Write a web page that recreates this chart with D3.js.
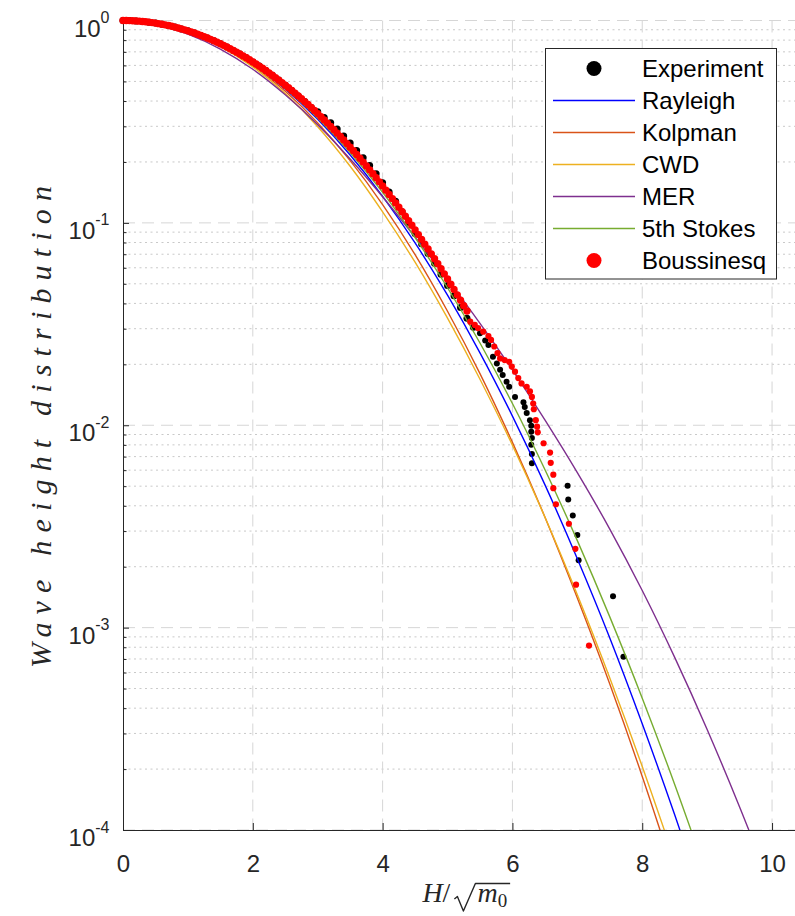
<!DOCTYPE html>
<html>
<head>
<meta charset="utf-8">
<script src="https://cdn.jsdelivr.net/npm/d3@7"></script>
<style>
  body { margin: 0; background: #fff; }
  svg { display: block; }
</style>
</head>
<body>
<svg id="chart" width="795" height="916"></svg>
<script>
// ---- model curves: exceedance probability at H/sqrt(m0) = 0, 0.5, 1, ... ----
const modelH = [0, 0.5, 1, 1.5, 2, 2.5, 3, 3.5, 4, 4.5, 5, 5.5, 6, 6.5, 7, 7.5, 8, 8.5, 9, 9.5, 10];
const rayleighP = [1, 0.9692, 0.8825, 0.7548, 0.6065, 0.4578, 0.3247, 0.2163, 0.1353, 0.0796, 0.0439,
  0.0228, 0.0111, 0.00509, 0.00219, 0.000889, 0.000335, 0.000119, 0.0000402];
const kolpmanP = [1, 0.9685, 0.8798, 0.7498, 0.5981, 0.4466, 0.3116, 0.2029, 0.1232, 0.0697, 0.0366,
  0.0180, 0.00823, 0.00352, 0.00140, 0.000526, 0.000184, 0.0000599];
const cwdP = [1, 0.9676, 0.8767, 0.7438, 0.590, 0.4356, 0.2988, 0.1905, 0.1134, 0.0639, 0.0338,
  0.01688, 0.00797, 0.00352, 0.001454, 0.000564, 0.000206, 0.0000707];
const merP = [1, 0.9560, 0.8564, 0.7225, 0.5741, 0.4296, 0.3057, 0.2070, 0.1347, 0.0850, 0.0526,
  0.0319, 0.01878, 0.01062, 0.00583, 0.00307, 0.001526, 0.000713, 0.000314, 0.000130, 0.0000509];
const stokes5P = [1, 0.9692, 0.8828, 0.7558, 0.6088, 0.4618, 0.3301, 0.2225, 0.1414, 0.0846, 0.0478,
  0.0255, 0.0128, 0.00604, 0.00269, 0.00113, 0.000448, 0.000168, 0.0000591];

// ---- measured wave heights (Experiment): dense body and sparse tail ----
const expBodyH = [0, 0.1, 0.2, 0.3, 0.4, 0.5, 0.6, 0.7, 0.8, 0.9, 1.0, 1.1, 1.2, 1.3, 1.4, 1.5, 1.6, 1.7, 1.8, 1.9,
  2.0, 2.1, 2.2, 2.3, 2.4, 2.5, 2.6, 2.7, 2.8, 2.9, 3.0, 3.1, 3.2, 3.3, 3.4, 3.5, 3.6, 3.7, 3.8, 3.9,
  4.0, 4.1, 4.2, 4.3, 4.4, 4.5, 4.6, 4.7, 4.8, 4.9, 5.0, 5.1, 5.2, 5.3, 5.4];
const expBodyP = [1, 0.9988, 0.9953, 0.9895, 0.9813, 0.9710, 0.9585, 0.9440, 0.9275, 0.9091,
  0.8890, 0.8673, 0.8441, 0.8196, 0.7940, 0.7674, 0.7399, 0.7118, 0.6831, 0.6540,
  0.6245, 0.5951, 0.5657, 0.5365, 0.5077, 0.4793, 0.4514, 0.4241, 0.3975, 0.3717,
  0.354, 0.332, 0.312, 0.291, 0.269, 0.248, 0.228, 0.210, 0.192, 0.175,
  0.158, 0.142, 0.128, 0.1135, 0.1005, 0.0886, 0.0788, 0.0706, 0.0632, 0.0557,
  0.0491, 0.0436, 0.0382, 0.0338, 0.0305];
const expTailH = [5.50, 5.58, 5.63, 5.70, 5.76, 5.81, 5.85, 5.91, 5.95, 6.04, 6.17, 6.19, 6.22, 6.27, 6.29,
  6.29, 6.30, 6.29, 6.30, 6.30, 6.85, 6.86, 6.93, 7.00, 7.02, 7.55, 7.71];
const expTailP = [0.0285, 0.0262, 0.0249, 0.0218, 0.0202, 0.0188, 0.0177, 0.0164, 0.0155, 0.0138, 0.0130,
  0.0123, 0.0115, 0.0106, 0.00993, 0.0093, 0.00864, 0.0080, 0.0072, 0.00649, 0.00502, 0.0043, 0.00358,
  0.00287, 0.00215, 0.00143, 0.000717];

// ---- simulated wave heights (Boussinesq): dense body and sparse tail ----
const bousBodyH = [0, 0.05, 0.1, 0.15, 0.2, 0.25, 0.3, 0.35, 0.4, 0.45, 0.5, 0.55, 0.6, 0.65, 0.7, 0.75, 0.8, 0.85,
  0.9, 0.95, 1.0, 1.05, 1.1, 1.15, 1.2, 1.25, 1.3, 1.35, 1.4, 1.45, 1.5, 1.55, 1.6, 1.65, 1.7, 1.75, 1.8,
  1.85, 1.9, 1.95, 2.0, 2.05, 2.1, 2.15, 2.2, 2.25, 2.3, 2.35, 2.4, 2.45, 2.5, 2.55, 2.6, 2.65, 2.7, 2.75,
  2.8, 2.85, 2.9, 2.95, 3.0, 3.05, 3.1, 3.15, 3.2, 3.25, 3.3, 3.35, 3.4, 3.45, 3.5, 3.55, 3.6, 3.65, 3.7,
  3.75, 3.8, 3.85, 3.9, 3.95, 4.0, 4.05, 4.1, 4.15, 4.2, 4.25, 4.3, 4.35, 4.4, 4.45, 4.5, 4.55, 4.6, 4.65,
  4.7, 4.75, 4.8, 4.85, 4.9, 4.95, 5.0, 5.05, 5.1, 5.15, 5.2, 5.25, 5.3];
const bousBodyP = [1, 0.9997, 0.9988, 0.9974, 0.9953, 0.9927, 0.9895, 0.9857, 0.9813, 0.9765,
  0.9710, 0.9650, 0.9585, 0.9515, 0.9440, 0.9360, 0.9275, 0.9185, 0.9091, 0.8992,
  0.8890, 0.8783, 0.8673, 0.8559, 0.8441, 0.8320, 0.8196, 0.8069, 0.7940, 0.7808,
  0.7674, 0.7538, 0.7399, 0.7259, 0.7118, 0.6975, 0.6831, 0.6686, 0.6540, 0.6393,
  0.6245, 0.6098, 0.5951, 0.5804, 0.5657, 0.5511, 0.5365, 0.5220, 0.5077, 0.4934,
  0.4793, 0.4653, 0.4514, 0.4377, 0.4241, 0.4107, 0.3975, 0.3845, 0.3717, 0.3591,
  0.3467, 0.3346, 0.3227, 0.3111, 0.2997, 0.2885, 0.2776, 0.2670, 0.2566, 0.2465,
  0.2366, 0.2270, 0.2176, 0.2086, 0.1997, 0.1911, 0.1828, 0.1748, 0.1670, 0.1595,
  0.1522, 0.1451, 0.1383, 0.1318, 0.1255, 0.1194, 0.1135, 0.1079, 0.1025, 0.0973,
  0.0923, 0.0875, 0.0829, 0.0785, 0.0743, 0.0703, 0.0665, 0.0628, 0.0593, 0.0560,
  0.0528, 0.0497, 0.0469, 0.0441, 0.0415, 0.0390, 0.0367];
const bousTailH = [5.35, 5.42, 5.47, 5.55, 5.63, 5.67, 5.72, 5.77, 5.81, 5.88, 5.95, 5.99, 6.04, 6.09, 6.14,
  6.22, 6.27, 6.30, 6.32, 6.33, 6.36, 6.38, 6.39, 6.48, 6.58, 6.59, 6.63, 6.63, 6.67, 6.87, 6.97, 6.98, 7.18];
const bousTailP = [0.0325, 0.0313, 0.0302, 0.0290, 0.0276, 0.0264, 0.0245, 0.0227, 0.0214, 0.0210, 0.0206,
  0.0195, 0.0184, 0.0171, 0.0161, 0.0155, 0.0147, 0.0138, 0.0128, 0.0120, 0.0106, 0.00984, 0.00923, 0.00815,
  0.00733, 0.00652, 0.00570, 0.00489, 0.00407, 0.00326, 0.00245, 0.00163, 0.000815];

// ---- axes ticks and legend ----
const xTicks = [0, 2, 4, 6, 8, 10];
const yDecades = [1e-4, 1e-3, 1e-2, 1e-1, 1];
const yExponents = ['-4', '-3', '-2', '-1', '0'];
const legendNames = ['Experiment', 'Rayleigh', 'Kolpman', 'CWD', 'MER', '5th Stokes', 'Boussinesq'];

// ---- drawing ----
(function draw() {
  const svg = d3.select('#chart');
  const TXT = '#262626';
  const SANS = '"Liberation Sans", Arial, Helvetica, sans-serif';
  const SERIF = '"Liberation Serif", "Times New Roman", serif';

  const pL = 123, pR = 804.5, pT = 20.5, pB = 830;
  const xs = d3.scaleLinear().domain([0, 10.5]).range([pL, pR]);
  const ys = d3.scaleLog().domain([1e-4, 1]).range([pB, pT]);

  svg.append('rect').attr('width', 795).attr('height', 916).attr('fill', '#fff');

  svg.append('defs').append('clipPath').attr('id', 'plotclip')
    .append('rect').attr('x', pL).attr('y', pT - 1).attr('width', pR - pL).attr('height', pB - pT + 1);

  // grid
  const grid = svg.append('g');
  const minorVals = [];
  yDecades.slice(0, 4).forEach(d => { for (let m = 2; m <= 9; m++) minorVals.push(d * m); });
  grid.append('g').selectAll('line').data(minorVals).join('line')
    .attr('x1', pL).attr('x2', pR)
    .attr('y1', d => ys(d)).attr('y2', d => ys(d))
    .attr('stroke', '#c9c9c9').attr('stroke-width', 1).attr('stroke-dasharray', '2,3.5');
  grid.append('g').selectAll('line').data(yDecades).join('line')
    .attr('x1', pL).attr('x2', pR)
    .attr('y1', d => ys(d)).attr('y2', d => ys(d))
    .attr('stroke', '#d6d6d6').attr('stroke-width', 1).attr('stroke-dasharray', '12,7');
  grid.append('g').selectAll('line').data(xTicks.filter(d => d > 0)).join('line')
    .attr('x1', d => xs(d)).attr('x2', d => xs(d))
    .attr('y1', pT).attr('y2', pB)
    .attr('stroke', '#d6d6d6').attr('stroke-width', 1).attr('stroke-dasharray', '12,7');

  // x axis
  const gx = svg.append('g').attr('transform', `translate(0,${pB})`)
    .call(d3.axisBottom(xs).tickValues(xTicks).tickSize(-7).tickSizeOuter(0).tickPadding(24.5)
      .tickFormat(d3.format('d')));
  gx.attr('font-family', SANS).attr('font-size', 24).attr('color', TXT);
  gx.selectAll('text').attr('fill', TXT);

  // y axis: minor ticks
  svg.append('g').attr('transform', `translate(${pL},0)`)
    .call(d3.axisLeft(ys).tickValues(minorVals).tickSize(-3.5).tickFormat(''))
    .attr('color', TXT)
    .call(g => g.select('.domain').remove());

  // y axis: major ticks with power-of-ten labels
  const gy = svg.append('g').attr('transform', `translate(${pL},0)`)
    .call(d3.axisLeft(ys).tickValues(yDecades).tickSize(-6).tickSizeOuter(0).tickPadding(13.5)
      .tickFormat(() => ''));
  gy.attr('font-family', SANS).attr('font-size', 24).attr('color', TXT);
  gy.selectAll('.tick text').each(function (d) {
    const t = d3.select(this).attr('dy', null).attr('y', 15.5).attr('fill', TXT);
    const idx = yDecades.indexOf(d);
    t.append('tspan').text('10');
    t.append('tspan').attr('font-size', 16).attr('dy', -13.5).text(yExponents[idx]);
  });

  const zipPts = (hs, ps) => hs.map((h, i) => [h, ps[i]]);
  const zipModel = vals => vals.map((v, i) => [modelH[i], v]);
  const dots = (pts, r, color) => svg.append('g').selectAll('circle').data(pts).join('circle')
    .attr('cx', d => xs(d[0])).attr('cy', d => ys(d[1])).attr('r', r).attr('fill', color);

  // experiment markers (underneath the model curves)
  dots(zipPts(expBodyH, expBodyP), 3.5, '#000');
  dots(zipPts(expTailH, expTailP), 3.0, '#000');

  // model curves
  const curves = svg.append('g').attr('clip-path', 'url(#plotclip)');
  const line = d3.line().x(d => xs(d[0])).y(d => ys(d[1])).curve(d3.curveMonotoneX);
  const modelSeries = [
    { vals: rayleighP, color: '#0000ff' },
    { vals: kolpmanP, color: '#D95319' },
    { vals: cwdP, color: '#EDB120' },
    { vals: merP, color: '#7E2F8E' },
    { vals: stokes5P, color: '#77AC30' }
  ];
  modelSeries.forEach(s => {
    curves.append('path').datum(zipModel(s.vals)).attr('d', line)
      .attr('fill', 'none').attr('stroke', s.color).attr('stroke-width', 1.4);
  });

  // Boussinesq markers on top
  dots(zipPts(bousBodyH, bousBodyP), 3.7, '#ff0000');
  dots(zipPts(bousTailH, bousTailP), 3.1, '#ff0000');

  // axis labels
  svg.append('text')
    .attr('transform', 'translate(51,427) rotate(-90)')
    .attr('text-anchor', 'middle')
    .attr('textLength', 482).attr('lengthAdjust', 'spacing')
    .attr('font-family', SERIF).attr('font-style', 'italic').attr('font-size', 30)
    .attr('fill', TXT)
    .text('Wave height distribution');

  const xl = svg.append('g').attr('fill', TXT);
  const t1 = xl.append('text').attr('y', 902).attr('font-family', SERIF).attr('font-size', 28);
  t1.append('tspan').attr('font-style', 'italic').text('H');
  t1.append('tspan').text('/');
  const t2 = xl.append('text').attr('y', 902).attr('font-family', SERIF).attr('font-size', 28);
  t2.append('tspan').attr('font-style', 'italic').text('m');
  t2.append('tspan').attr('font-size', 19).attr('dy', 5).text('0');
  const w1 = t1.node().getComputedTextLength();
  const w2 = t2.node().getComputedTextLength();
  const total = w1 + 4 + 21 + 2 + w2 + 2;
  const x0 = (pL + pR) / 2 + 2 - total / 2;
  t1.attr('x', x0);
  const rx = x0 + w1 + 4;
  t2.attr('x', rx + 23);
  xl.append('path')
    .attr('d', `M${rx},899 L${rx + 3},896.5 L${rx + 9},911 L${rx + 21},883.5 H${rx + 23 + w2 + 3}`)
    .attr('fill', 'none').attr('stroke', TXT).attr('stroke-width', 1.4).attr('stroke-linejoin', 'round');

  // legend
  const lg = svg.append('g');
  lg.append('rect').attr('x', 545.5).attr('y', 48.5).attr('width', 231).attr('height', 230.5)
    .attr('fill', '#fff').attr('stroke', TXT).attr('stroke-width', 1);
  const legendStyle = [
    { kind: 'dot', color: '#000' },
    { kind: 'line', color: '#0000ff' },
    { kind: 'line', color: '#D95319' },
    { kind: 'line', color: '#EDB120' },
    { kind: 'line', color: '#7E2F8E' },
    { kind: 'line', color: '#77AC30' },
    { kind: 'dot', color: '#ff0000' }
  ];
  legendNames.forEach((name, i) => {
    const cy = 68.5 + 32 * i;
    const st = legendStyle[i];
    if (st.kind === 'dot') {
      lg.append('circle').attr('cx', 594).attr('cy', cy).attr('r', 7.5).attr('fill', st.color);
    } else {
      lg.append('line').attr('x1', 553).attr('x2', 635).attr('y1', cy).attr('y2', cy)
        .attr('stroke', st.color).attr('stroke-width', 1.4);
    }
    lg.append('text').attr('x', 642).attr('y', cy + 8.5)
      .attr('font-family', SANS).attr('font-size', 24).attr('fill', '#000').text(name);
  });
})();
</script>
</body>
</html>
